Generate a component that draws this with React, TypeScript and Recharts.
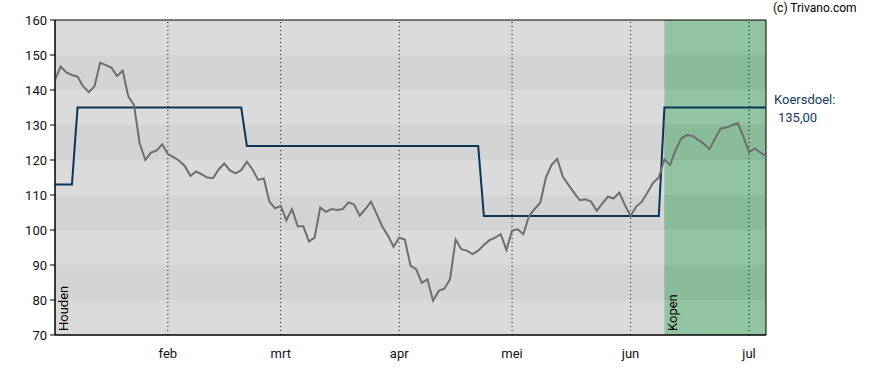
import React from 'react';
import { LineChart, Line, XAxis, YAxis, ReferenceArea, ReferenceLine, ReferenceDot } from 'recharts';

// slotkoersen per handelsdag (jan - jul)
const PRICE = [
  142.9, 146.7, 145, 144.3, 143.8, 141, 139.4, 141.1, 147.8, 147.1,
  146.4, 144, 145.5, 138.1, 135.7, 124.8, 120, 122.1, 122.7, 124.5,
  121.7, 120.8, 119.8, 118.3, 115.4, 116.7, 115.9, 115, 114.8, 117.3,
  119, 117, 116.2, 117.1, 119.5, 117.3, 114.3, 114.7, 108.1, 106.2,
  106.9, 102.8, 106, 101.1, 101.1, 96.7, 97.8, 106.4, 105.2, 106,
  105.7, 106, 107.9, 107.3, 104.1, 106, 108.1, 104.6, 101, 98.4,
  95.2, 97.8, 97.3, 89.8, 88.8, 84.9, 85.9, 79.8, 82.6, 83.2,
  85.9, 97.3, 94.5, 94.1, 93.1, 94.1, 95.7, 97.1, 97.8, 98.8,
  94.3, 99.8, 100.2, 98.8, 104, 106, 107.8, 115, 118.6, 120.3,
  115.2, 112.9, 110.6, 108.5, 108.8, 108.1, 105.5, 107.6, 109.5, 109,
  110.7, 107.1, 104, 106.7, 108.1, 110.7, 113.5, 115, 120.2, 118.6,
  122.9, 126.2, 127.1, 126.9, 125.7, 124.6, 123.1, 126.2, 129, 129.3,
  130, 130.5, 126.7, 122.2, 123.3, 122.1, 121.2,
];

// koersdoel: dag waarop het doel wijzigt + nieuwe waarde
const TARGET_FROM = [0, 4, 34, 76, 108];
const TARGET_VALUE = [113, 135, 124, 104, 135];

// advies
const SIGNAL_FROM = [0, 108];
const SIGNAL_LABEL = ['Houden', 'Kopen'];

const MONTH_TICKS = [20, 40, 61, 81, 102, 123];
const MONTH_LABELS = ['feb', 'mrt', 'apr', 'mei', 'jun', 'jul'];
const Y_TICKS = [70, 80, 90, 100, 110, 120, 130, 140, 150, 160];

const LAST = PRICE.length - 1;

const targetAt = (i: number) => {
  let v = TARGET_VALUE[0];
  TARGET_FROM.forEach((from, k) => {
    if (i >= from) v = TARGET_VALUE[k];
  });
  return v;
};

const data = PRICE.map((p, i) => ({ i, koers: p, doel: targetAt(i) }));

const SignalLabel = (props: any) => {
  const { viewBox, value } = props;
  const x = viewBox.x + 13;
  const y = viewBox.y + viewBox.height - 4;
  return (
    <text x={x} y={y} fontSize={13} fill="#000" transform={`rotate(-90 ${x} ${y})`}>
      {value}
    </text>
  );
};

const TargetLabel = (props: any) => {
  const { viewBox } = props;
  const x = viewBox.x;
  const y = viewBox.y;
  return (
    <g>
      <text x={x + 8} y={y - 4} fontSize={13} fill="#163a5a">Koersdoel:</text>
      <text x={x + 12} y={y + 14} fontSize={13} fill="#163a5a">
        {TARGET_VALUE[TARGET_VALUE.length - 1].toFixed(2).replace('.', ',')}
      </text>
    </g>
  );
};

export default function App() {
  const bands = Y_TICKS.slice(0, -1).map((lo, k) => ({ lo, hi: Y_TICKS[k + 1], dark: k % 2 === 1 }));
  const green = SIGNAL_FROM[1];

  return (
    <div style={{ position: 'absolute', left: 0, top: 0, width: 888, height: 370, background: '#fff', fontFamily: 'Roboto, sans-serif' }}>
      <LineChart width={888} height={370} data={data} margin={{ top: 20, right: 122, bottom: 0, left: 0 }}>
        <XAxis
          dataKey="i"
          type="number"
          domain={[0, LAST]}
          ticks={MONTH_TICKS}
          tickFormatter={(v) => MONTH_LABELS[MONTH_TICKS.indexOf(v)]}
          height={35}
          axisLine={{ stroke: '#000' }}
          tickLine={false}
          tick={{ fontSize: 13, fill: '#111' }}
          tickMargin={8}
        />
        <YAxis
          type="number"
          domain={[70, 160]}
          ticks={Y_TICKS}
          width={55}
          axisLine={{ stroke: '#000' }}
          tickLine={{ stroke: '#000' }}
          tickSize={5}
          tickMargin={3}
          tick={{ fontSize: 13, fill: '#111' }}
          interval={0}
        />

        {/* achtergrond banden */}
        {bands.map((b) => (
          <ReferenceArea key={`g${b.lo}`} x1={0} x2={LAST} y1={b.lo} y2={b.hi} fill={b.dark ? '#d3d3d3' : '#dadada'} fillOpacity={1} />
        ))}
        {/* advies zones */}
        <ReferenceArea x1={SIGNAL_FROM[0]} x2={green} y1={70} y2={160} fill="none" label={<SignalLabel value={SIGNAL_LABEL[0]} />} />
        <ReferenceArea x1={green} x2={LAST} y1={70} y2={160} fill="#93c4a1" fillOpacity={1} />
        {bands.filter((b) => b.dark).map((b) => (
          <ReferenceArea key={`k${b.lo}`} x1={green} x2={LAST} y1={b.lo} y2={b.hi} fill="#8abb98" fillOpacity={1} />
        ))}
        <ReferenceArea x1={green} x2={LAST} y1={70} y2={160} fill="none" label={<SignalLabel value={SIGNAL_LABEL[1]} />} />

        {MONTH_TICKS.map((t) => (
          <ReferenceLine key={t} x={t} stroke="#000" strokeDasharray="1 3" />
        ))}

        <Line dataKey="doel" type="linear" stroke="#0b3556" strokeWidth={2} dot={false} isAnimationActive={false} />
        <Line dataKey="koers" type="linear" stroke="#6e6e6e" strokeWidth={2} dot={false} isAnimationActive={false} />

        <ReferenceArea x1={0} x2={LAST} y1={70} y2={160} fill="none" stroke="#000" strokeWidth={1} />
        <ReferenceDot x={LAST} y={TARGET_VALUE[TARGET_VALUE.length - 1]} r={0} fill="none" stroke="none" label={<TargetLabel />} />
      </LineChart>
      <div style={{ position: 'absolute', left: 773, top: 1, fontSize: 12, color: '#000' }}>(c) Trivano.com</div>
    </div>
  );
}
